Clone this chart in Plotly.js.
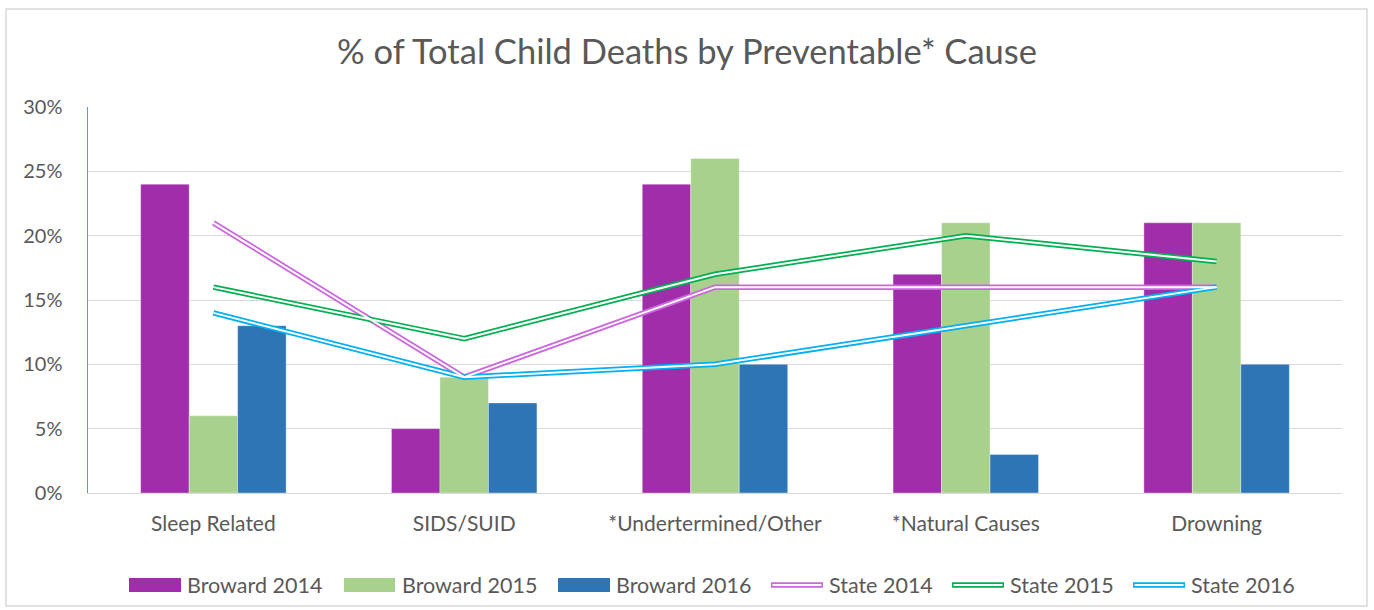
<!DOCTYPE html>
<html>
<head>
<meta charset="utf-8">
<script src="https://cdn.plot.ly/plotly-3.0.1.min.js"></script>
<style>html,body{margin:0;padding:0;background:#fff;}#chart{width:1374px;height:610px;}</style>
</head>
<body>
<div id="chart"></div>
<script>
const categories = ["Sleep Related", "SIDS/SUID", "*Undertermined/Other", "*Natural Causes", "Drowning"];
const broward2014 = [24, 5, 24, 17, 21];
const broward2015 = [6, 9, 26, 21, 21];
const broward2016 = [13, 7, 10, 3, 10];
const state2014 = [21, 9, 16, 16, 16];
const state2015 = [16, 12, 17, 20, 18];
const state2016 = [14, 9, 10, 13, 16];
const yTickVals = [0, 5, 10, 15, 20, 25, 30];
const yTickText = ["0%", "5%", "10%", "15%", "20%", "25%", "30%"];
const seriesNames = ["Broward 2014", "Broward 2015", "Broward 2016", "State 2014", "State 2015", "State 2016"];

const FONT = "Lato, 'Open Sans', sans-serif";
const TXT = "#595959";
const COLORS = ["#A02DA9", "#A9D18E", "#2E75B6", "#CC66DD", "#00B050", "#00B0F0"];

const W = 1374, H = 610, ML = 88, MR = 32, MT = 107, MB = 117;
const PW = W - ML - MR, PH = H - MT - MB;
const px = x => (x - ML) / PW;
const py = y => (H - MB - y) / PH;

function bar(i, y) {
  return {type: "bar", name: seriesNames[i], x: categories, y: y,
    marker: {color: COLORS[i], line: {color: "rgba(255,255,255,0.35)", width: 1}},
    hoverinfo: "skip", showlegend: false};
}
function lineOuter(i, y) {
  return {type: "scatter", mode: "lines", name: seriesNames[i], x: categories, y: y,
    line: {color: COLORS[i], width: 5.5}, hoverinfo: "skip", showlegend: false};
}
function lineInner(i, y) {
  return {type: "scatter", mode: "lines", name: seriesNames[i], x: categories, y: y,
    line: {color: "#ffffff", width: 2}, showlegend: false, hoverinfo: "skip"};
}

const data = [
  bar(0, broward2014), bar(1, broward2015), bar(2, broward2016),
  lineOuter(3, state2014), lineOuter(4, state2015), lineOuter(5, state2016),
  lineInner(3, state2014), lineInner(4, state2015), lineInner(5, state2016)
];

// custom legend (pixel layout)
const legendY = 585;
const legendItems = [
  {kind: "bar", x0: 129, x1: 181, tx: 185},
  {kind: "bar", x0: 344, x1: 395, tx: 400},
  {kind: "bar", x0: 558, x1: 610, tx: 614},
  {kind: "line", x0: 771, x1: 823, tx: 827},
  {kind: "line", x0: 952, x1: 1004, tx: 1008},
  {kind: "line", x0: 1133, x1: 1185, tx: 1189}
];
const shapes = [{type: "rect", xref: "paper", yref: "paper", x0: px(6), x1: px(1367),
  y0: py(606), y1: py(9), line: {color: "#D9D9D9", width: 1.5}, fillcolor: "rgba(0,0,0,0)", layer: "below"}];
const annotations = [];
legendItems.forEach((it, i) => {
  if (it.kind === "bar") {
    shapes.push({type: "rect", xref: "paper", yref: "paper", x0: px(it.x0), x1: px(it.x1),
      y0: py(legendY + 7), y1: py(legendY - 7), line: {width: 0}, fillcolor: COLORS[i]});
  } else {
    shapes.push({type: "line", xref: "paper", yref: "paper", x0: px(it.x0), x1: px(it.x1),
      y0: py(legendY), y1: py(legendY), line: {color: COLORS[i], width: 5.5}});
    shapes.push({type: "line", xref: "paper", yref: "paper", x0: px(it.x0 + 1.5), x1: px(it.x1 - 1.5),
      y0: py(legendY), y1: py(legendY), line: {color: "#ffffff", width: 2}});
  }
  annotations.push({xref: "paper", yref: "paper", x: px(it.tx), y: py(legendY), xanchor: "left", yanchor: "middle",
    text: seriesNames[i], showarrow: false, font: {family: FONT, size: 21.5, color: TXT}});
});

const layout = {
  width: W, height: H,
  margin: {l: ML, r: MR, t: MT, b: MB},
  paper_bgcolor: "#ffffff", plot_bgcolor: "#ffffff",
  font: {family: FONT, color: TXT, size: 18},
  title: {text: "% of Total Child Deaths by Preventable* Cause", x: 0.5, xref: "container", xanchor: "center",
    y: 1 - 52/610, yref: "container", yanchor: "middle",
    font: {family: FONT, size: 34.5, color: TXT}},
  barmode: "group", bargap: 0.42, bargroupgap: 0,
  xaxis: {type: "category", showgrid: false, zeroline: false, showline: true, linecolor: "#D9D9D9", linewidth: 1,
    ticks: "", tickfont: {size: 21, color: TXT}, ticklabelstandoff: 12, automargin: false},
  yaxis: {range: [0, 30], tickvals: yTickVals, ticktext: yTickText, showgrid: true, gridcolor: "#D9D9D9", gridwidth: 1,
    zeroline: false, showline: true, linecolor: "#5B9BD5", linewidth: 1.5, ticks: "",
    tickfont: {size: 20, color: TXT}, ticklabelstandoff: 20, automargin: false},
  shapes: shapes,
  annotations: annotations,
  showlegend: false
};

Plotly.newPlot("chart", data, layout, {staticPlot: true, displayModeBar: false});
</script>
</body>
</html>
